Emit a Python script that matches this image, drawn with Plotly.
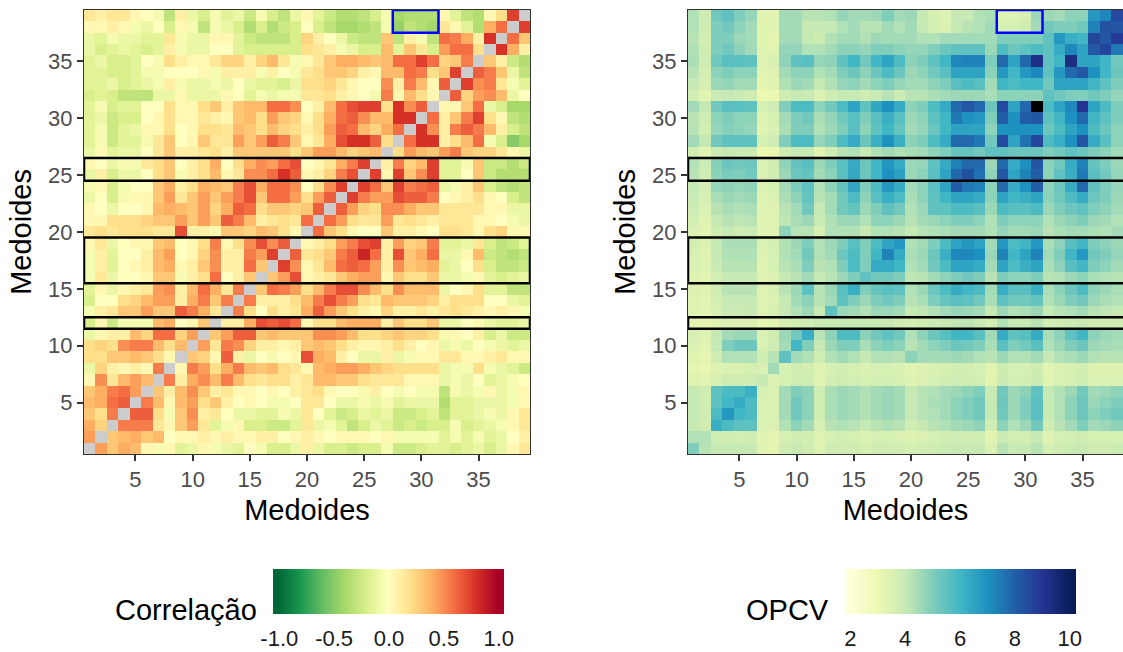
import plotly.graph_objects as go

# ---------------- data ----------------
medoids = list(range(1, 40))
N = None

# correlation between medoids; row k = medoid k (bottom = 1), columns = medoids 1..39
corr_rows = [
 [N,0.45,0.3,0.4,0.35,0.05,-0.05,0.05,-0.15,-0.1,0.05,-0.05,-0.1,-0.15,0.0,-0.05,-0.2,-0.2,-0.1, 0.1,-0.1,-0.2,-0.2,-0.25,-0.2,-0.2,-0.05,-0.25,-0.25,-0.2,-0.15,-0.15,-0.2,-0.15,-0.1,-0.2,-0.1,0.05,0.15],
 [0.45,N,0.3,0.35,0.4,0.3,0.35,0.0,0.05,0.05,0.1,0.05,0.1,0.05,0.05,0.1,0.1,0.0,0.05, 0.1,0.05,0.0,0.05,0.05,0.05,0.0,0.05,-0.05,-0.05,-0.05,-0.05,-0.15,-0.05,-0.15,-0.05,-0.15,-0.1,0.0,0.1],
 [0.4,0.25,N,0.55,0.55,0.55,0.15,0.05,0.3,0.45,0.15,-0.15,-0.05,0.05,-0.2,-0.2,-0.25,-0.25,-0.15, 0.15,-0.1,-0.05,-0.15,-0.3,-0.2,-0.1,-0.15,-0.25,-0.2,-0.25,-0.2,-0.2,-0.05,-0.2,-0.15,-0.1,-0.05,0.05,0.15],
 [0.3,0.2,0.55,N,0.65,0.65,0.2,-0.05,0.3,0.5,0.1,0.15,0.0,-0.1,-0.1,-0.15,-0.15,-0.05,-0.1, 0.15,0.0,-0.15,-0.25,-0.2,-0.1,-0.15,-0.1,-0.25,-0.25,-0.2,-0.15,-0.3,-0.15,-0.15,-0.1,-0.05,-0.1,0.05,0.15],
 [0.35,0.4,0.6,0.65,N,0.55,0.35,0.05,0.35,0.45,0.2,0.3,0.1,0.0,0.05,0.0,-0.05,-0.05,0.0, 0.15,0.15,0.0,-0.1,-0.1,-0.05,-0.1,-0.05,-0.15,-0.1,-0.1,-0.1,-0.35,-0.15,-0.15,-0.1,-0.1,-0.1,-0.05,0.05],
 [0.3,0.4,0.55,0.6,0.45,N,0.3,0.1,0.35,0.5,0.3,0.1,0.15,0.05,0.05,0.0,0.05,0.0,0.1, 0.15,0.2,0.05,0.0,0.0,-0.05,0.1,0.0,-0.05,0.0,-0.05,-0.05,-0.3,-0.05,-0.1,-0.05,0.05,-0.1,-0.05,0.05],
 [0.05,0.5,0.15,0.35,0.45,0.35,N,0.55,0.1,0.4,0.5,0.35,0.55,0.35,0.2,0.15,0.2,0.2,0.1, 0.15,0.35,0.35,0.3,0.3,0.2,0.15,0.15,0.15,0.05,0.05,0.05,-0.1,-0.05,-0.1,0.0,-0.15,-0.1,-0.05,0.0],
 [-0.1,0.25,0.1,0.05,0.1,0.05,0.55,N,0.05,0.55,0.45,0.2,0.4,0.55,0.35,0.3,0.35,0.2,0.15, 0.05,0.35,0.4,0.45,0.45,0.4,0.3,0.25,0.2,0.2,0.2,0.2,-0.1,-0.05,-0.05,0.2,-0.05,-0.1,-0.15,-0.25],
 [0.2,0.2,0.3,0.3,0.35,0.3,0.2,0.05,N,0.3,0.25,0.05,0.65,0.1,-0.1,0.0,-0.05,0.0,0.05, 0.7,0.4,0.35,0.1,0.0,-0.1,-0.1,0.1,-0.1,-0.05,0.05,0.05,0.15,0.15,0.05,0.05,0.1,0.15,0.05,0.05],
 [0.2,0.25,0.2,0.5,0.55,0.55,0.35,0.2,0.35,N,0.45,0.15,0.55,0.5,0.25,0.1,0.1,0.05,0.1, 0.3,0.35,0.3,0.2,0.1,0.05,0.05,0.1,0.2,0.1,0.0,0.05,-0.1,-0.05,-0.1,0.0,-0.05,-0.1,-0.15,-0.1],
 [-0.1,0.05,0.1,0.1,0.35,0.25,0.6,0.6,0.25,0.45,N,0.3,0.45,0.65,0.65,0.3,0.35,0.3,0.3, 0.3,0.5,0.5,0.45,0.35,0.2,0.2,0.25,0.3,0.25,0.25,0.2,-0.05,0.05,0.0,0.1,-0.2,-0.1,-0.25,-0.25],
 [-0.2,0.05,-0.25,-0.05,-0.05,-0.05,0.35,0.4,0.0,0.05,0.3,N,0.1,0.1,0.4,0.7,0.65,0.7,0.6, 0.05,0.2,0.2,0.35,0.4,0.4,0.4,0.1,0.3,0.2,0.2,0.3,-0.1,-0.1,0.0,0.05,-0.1,-0.15,-0.15,-0.1],
 [-0.05,0.1,0.15,0.3,0.3,0.45,0.3,0.3,0.65,0.55,0.4,0.15,N,0.55,0.2,0.0,0.2,0.1,0.15, 0.4,0.65,0.45,0.3,0.2,0.1,0.05,0.25,0.1,0.1,0.15,0.1,0.15,0.2,0.15,0.1,0.05,0.1,0.05,-0.05],
 [-0.2,0.0,0.0,0.2,0.25,0.35,0.45,0.45,0.1,0.4,0.55,0.3,0.55,N,0.55,0.1,0.1,0.1,0.2, 0.35,0.55,0.7,0.55,0.45,0.2,0.15,0.35,0.3,0.3,0.3,0.25,0.1,0.2,0.2,0.2,0.0,0.0,-0.1,-0.15],
 [-0.15,0.05,-0.1,0.05,0.1,0.15,0.45,0.5,0.1,0.35,0.6,0.4,0.15,0.55,N,0.3,0.6,0.55,0.45, 0.2,0.35,0.55,0.7,0.7,0.5,0.35,0.2,0.5,0.35,0.35,0.35,-0.1,0.0,0.05,0.2,-0.15,-0.15,-0.3,-0.3],
 [-0.05,0.15,-0.1,0.0,0.0,0.05,0.3,0.3,-0.05,0.1,0.2,0.6,0.0,0.1,0.3,N,0.3,0.45,0.7, 0.05,0.1,0.15,0.3,0.4,0.45,0.45,0.05,0.3,0.2,0.2,0.3,-0.1,-0.1,-0.05,0.05,-0.15,-0.2,-0.15,-0.1],
 [-0.05,0.1,-0.15,0.0,0.05,0.1,0.35,0.4,0.05,0.1,0.3,0.5,0.1,0.1,0.6,0.3,N,0.75,0.5, 0.05,0.15,0.35,0.6,0.65,0.6,0.45,0.1,0.5,0.3,0.35,0.4,-0.15,-0.1,0.0,0.2,-0.2,-0.3,-0.3,-0.25],
 [-0.05,0.1,-0.15,0.0,0.0,0.1,0.35,0.45,0.0,0.05,0.25,0.5,0.1,0.1,0.55,0.45,0.75,N,0.65, 0.15,0.2,0.3,0.55,0.65,0.85,0.6,0.1,0.7,0.3,0.4,0.6,-0.1,-0.1,0.05,0.35,-0.25,-0.3,-0.35,-0.3],
 [0.05,0.15,-0.1,0.0,0.05,0.05,0.3,0.35,0.0,0.05,0.2,0.55,0.05,0.2,0.5,0.7,0.5,0.65,N, 0.05,0.1,0.2,0.45,0.55,0.7,0.75,0.1,0.45,0.25,0.3,0.55,-0.15,-0.15,-0.1,0.15,-0.2,-0.3,-0.25,-0.15],
 [0.15,0.2,0.15,0.2,0.2,0.2,0.15,0.15,0.7,0.1,0.1,0.05,0.3,0.3,0.25,0.35,0.3,0.2,0.05, N,0.6,0.3,0.2,0.05,0.0,0.0,0.3,0.1,0.1,0.05,0.0,0.2,0.2,0.15,0.05,0.2,0.25,0.05,0.05],
 [0.05,0.05,0.2,0.2,0.2,0.25,0.3,0.3,0.45,0.3,0.45,0.3,0.65,0.55,0.35,0.1,0.15,0.2,0.15, 0.6,N,0.6,0.45,0.2,0.15,0.15,0.45,0.15,0.2,0.15,0.1,0.15,0.15,0.15,0.05,0.05,0.0,-0.05,-0.1],
 [0.05,0.0,-0.1,0.0,0.0,0.05,0.35,0.4,0.35,0.3,0.45,0.25,0.4,0.65,0.6,0.2,0.3,0.3,0.25, 0.3,0.65,N,0.65,0.45,0.25,0.2,0.5,0.5,0.4,0.3,0.3,0.15,0.15,0.15,0.15,0.05,0.05,-0.1,-0.1],
 [-0.1,0.0,-0.2,-0.05,0.05,0.05,0.3,0.45,0.15,0.3,0.45,0.3,0.45,0.55,0.7,0.3,0.6,0.6,0.45, 0.2,0.45,0.65,N,0.75,0.55,0.45,0.45,0.7,0.65,0.65,0.55,0.0,0.05,0.1,0.2,0.05,0.0,-0.2,-0.3],
 [-0.05,0.05,-0.2,-0.05,0.0,0.0,0.3,0.4,0.1,0.2,0.4,0.35,0.3,0.55,0.7,0.4,0.6,0.6,0.5, 0.0,0.2,0.5,0.75,N,0.75,0.6,0.3,0.75,0.55,0.6,0.65,-0.1,-0.05,0.1,0.3,-0.2,-0.3,-0.35,-0.3],
 [-0.1,0.1,-0.2,-0.1,-0.1,0.0,0.2,0.3,-0.05,0.1,0.2,0.35,0.05,0.15,0.5,0.5,0.6,0.8,0.65, 0.05,0.1,0.25,0.55,0.7,N,0.75,0.05,0.75,0.3,0.5,0.75,-0.15,-0.15,0.0,0.3,-0.25,-0.35,-0.35,-0.35],
 [0.05,0.0,-0.1,-0.05,-0.05,0.15,0.2,0.3,0.0,0.1,0.2,0.4,0.0,0.2,0.4,0.5,0.45,0.6,0.7, 0.0,0.05,0.15,0.4,0.55,0.75,N,0.1,0.55,0.25,0.35,0.75,-0.15,-0.15,-0.05,0.3,-0.25,-0.25,-0.35,-0.25],
 [-0.1,0.05,-0.15,-0.1,-0.1,0.0,0.15,0.3,0.1,0.1,0.15,0.2,0.1,0.3,0.3,0.3,0.3,0.3,0.2, 0.3,0.45,0.45,0.35,0.25,0.3,0.35,N,0.2,0.45,0.35,0.3,0.45,0.55,0.3,0.25,0.25,0.15,0.05,-0.1],
 [-0.15,-0.05,-0.25,-0.15,-0.15,-0.05,0.15,0.3,0.0,0.05,0.3,0.15,0.15,0.45,0.3,0.45,0.65,0.55,0.3, 0.05,0.15,0.4,0.7,0.8,0.8,0.65,0.2,N,0.6,0.8,0.8,0.1,0.2,0.35,0.6,-0.05,-0.2,-0.5,-0.4],
 [-0.15,-0.05,-0.25,-0.15,-0.1,0.05,0.05,0.2,0.0,0.05,0.2,0.2,0.15,0.35,0.3,0.2,0.35,0.25,0.2, 0.1,0.2,0.45,0.65,0.6,0.35,0.25,0.4,0.6,N,0.8,0.5,0.1,0.55,0.65,0.55,0.35,0.1,-0.2,-0.3],
 [-0.15,-0.1,-0.25,-0.2,-0.2,0.0,0.05,0.2,0.05,0.05,0.15,0.1,0.05,0.3,0.35,0.2,0.45,0.3,0.25, 0.05,0.2,0.4,0.6,0.65,0.5,0.35,0.35,0.8,0.8,N,0.6,0.1,0.3,0.55,0.75,0.2,0.05,-0.3,-0.35],
 [-0.15,-0.05,-0.2,-0.15,-0.15,0.0,0.0,0.2,0.05,0.05,0.2,0.3,0.1,0.3,0.35,0.35,0.6,0.6,0.5, 0.0,0.1,0.35,0.6,0.7,0.75,0.75,0.2,0.8,0.5,0.65,N,0.05,0.05,0.3,0.6,-0.1,-0.2,-0.4,-0.4],
 [-0.2,-0.15,-0.2,-0.3,-0.3,-0.3,-0.1,-0.1,0.05,-0.1,-0.1,-0.1,0.05,0.0,-0.15,-0.05,-0.1,-0.05,-0.05, 0.15,0.15,0.2,0.1,0.05,0.0,-0.05,0.55,0.05,0.35,0.2,0.05,N,0.65,0.25,0.45,0.5,0.35,-0.1,0.0],
 [-0.15,-0.15,-0.1,-0.2,-0.15,-0.1,-0.05,0.1,-0.05,-0.1,-0.1,-0.05,-0.1,0.0,-0.1,-0.15,-0.15,-0.2,-0.1, 0.2,0.2,0.25,0.15,0.05,0.0,0.0,0.5,0.1,0.55,0.35,0.05,0.65,N,0.75,0.5,0.55,0.15,-0.05,-0.15],
 [-0.15,-0.15,-0.2,-0.2,-0.15,-0.05,-0.05,0.0,0.0,0.0,0.05,-0.05,0.1,0.1,0.1,-0.05,0.1,0.0,-0.05, 0.15,0.2,0.3,0.3,0.25,0.1,0.05,0.35,0.35,0.6,0.55,0.2,0.3,0.75,N,0.65,0.55,0.3,-0.1,-0.3],
 [-0.15,-0.1,-0.2,-0.2,-0.15,0.0,-0.05,0.2,0.1,0.05,0.05,0.15,0.25,0.25,0.1,0.25,0.35,0.15,-0.05, 0.05,0.15,0.3,0.4,0.4,0.35,0.3,0.35,0.6,0.6,0.75,0.6,0.25,0.3,0.55,N,0.3,0.1,-0.25,-0.35],
 [-0.1,-0.2,-0.15,-0.1,-0.15,-0.2,-0.15,0.1,-0.05,-0.1,-0.1,0.0,0.0,-0.15,-0.2,-0.2,-0.2,-0.2,-0.2, 0.2,0.15,0.1,-0.05,-0.1,-0.2,-0.2,0.35,-0.15,0.3,0.15,-0.2,0.45,0.6,0.6,0.2,N,0.8,0.4,0.1],
 [-0.1,-0.15,-0.05,-0.1,-0.1,-0.15,-0.15,0.15,-0.05,-0.1,-0.1,0.05,0.05,-0.15,-0.25,-0.3,-0.3,-0.3,-0.2, 0.25,0.1,0.0,-0.1,-0.25,-0.3,-0.3,0.3,-0.3,0.1,-0.05,-0.3,0.6,0.55,0.4,0.1,0.8,N,0.6,0.3],
 [0.05,0.05,0.1,0.05,-0.05,-0.1,0.0,-0.2,0.05,-0.05,-0.3,-0.05,-0.1,-0.2,-0.35,-0.2,-0.35,-0.25,-0.2, 0.0,-0.2,-0.3,-0.4,-0.4,-0.35,-0.3,-0.05,-0.45,-0.3,-0.35,-0.4,0.15,0.05,-0.15,-0.35,0.4,0.6,N,0.75],
 [0.15,0.1,0.15,0.15,0.05,0.0,-0.05,-0.3,0.1,-0.1,-0.2,-0.05,-0.15,-0.1,-0.25,-0.05,-0.2,-0.3,-0.1, 0.05,-0.15,-0.25,-0.35,-0.35,-0.3,-0.2,-0.05,-0.4,-0.35,-0.35,-0.35,0.05,-0.15,-0.3,-0.35,0.05,0.2,0.75,N],
]

# OPCV between medoids; same layout (row k = medoid k, bottom = 1)
opcv_rows = [
 [5.0,4.2,4.0,4.0,4.0,4.0,3.3,3.2,3.8,4.0,3.8,3.4,3.8,3.8,3.8,3.6,3.8,3.8,3.7, 3.6,3.7,3.8,3.9,4.0,4.0,4.0,3.5,4.2,3.9,4.0,4.2,3.6,3.8,3.9,4.0,3.8,3.8,3.9,4.0],
 [4.3,4.3,3.8,3.8,3.7,3.8,3.3,3.2,3.6,3.8,3.7,3.4,3.6,3.7,3.6,3.5,3.6,3.6,3.5, 3.4,3.5,3.6,3.7,3.8,3.8,3.8,3.3,3.9,3.7,3.7,4.0,3.4,3.6,3.7,3.8,3.6,3.6,3.6,3.7],
 [4.0,3.8,6.2,5.8,5.5,5.5,3.5,3.5,4.3,4.8,4.5,3.6,4.2,4.3,4.2,4.0,4.2,4.3,4.2, 3.8,4.0,4.2,4.3,4.5,4.6,4.8,3.8,4.8,4.3,4.6,5.2,3.8,4.2,4.5,5.0,4.5,4.6,4.8,5.0],
 [4.0,3.8,5.8,6.8,6.0,5.8,3.5,3.5,4.5,5.2,4.8,3.8,4.4,4.6,4.5,4.3,4.5,4.6,4.5, 4.0,4.2,4.3,4.5,4.8,5.0,5.2,4.0,5.2,4.6,5.0,5.6,4.0,4.3,4.8,5.3,4.8,5.0,5.2,5.5],
 [4.0,3.8,5.5,6.0,6.3,5.8,3.5,3.5,4.5,5.2,4.8,3.8,4.4,4.6,4.5,4.3,4.5,4.6,4.5, 4.0,4.2,4.4,4.5,4.8,5.0,5.2,4.0,5.3,4.6,5.0,5.6,4.0,4.3,4.8,5.3,4.6,4.8,5.0,5.2],
 [4.0,3.8,5.5,5.8,5.8,6.2,3.6,3.5,4.5,5.0,4.8,3.8,4.4,4.6,4.5,4.3,4.5,4.6,4.5, 4.0,4.2,4.3,4.5,4.6,4.8,5.0,4.0,5.2,4.6,4.8,5.5,4.0,4.3,4.6,5.2,4.5,4.6,4.8,4.8],
 [3.4,3.3,3.6,3.8,3.8,3.8,4.0,3.5,3.6,3.8,3.8,3.4,3.7,3.8,3.7,3.6,3.7,3.7,3.6, 3.4,3.5,3.6,3.7,3.8,3.8,3.7,3.3,3.9,3.7,3.7,3.9,3.3,3.5,3.6,3.8,3.5,3.5,3.5,3.5],
 [3.2,3.1,3.4,3.5,3.5,3.6,3.5,4.5,3.6,3.8,3.7,3.4,3.6,3.7,3.6,3.5,3.6,3.6,3.5, 3.3,3.4,3.5,3.6,3.7,3.7,3.6,3.3,3.8,3.6,3.6,3.8,3.3,3.5,3.6,3.7,3.4,3.4,3.4,3.4],
 [3.4,3.2,3.8,4.3,4.3,4.3,3.8,4.2,5.5,4.5,4.3,3.8,4.3,4.5,4.3,4.0,4.3,4.3,4.2, 4.8,4.5,4.5,4.5,4.6,4.5,4.3,4.2,4.6,4.3,4.3,4.5,4.0,4.3,4.4,4.6,4.3,4.2,4.2,4.2],
 [3.5,3.3,4.0,5.0,5.3,5.3,3.5,3.8,4.5,6.0,5.0,4.0,4.6,5.0,5.0,4.4,4.8,5.0,4.8, 4.2,4.5,4.8,5.0,5.3,5.2,5.0,4.4,5.6,5.0,5.2,5.6,4.3,4.6,5.0,5.3,4.6,4.5,4.4,4.3],
 [3.6,3.4,4.0,4.5,4.6,4.6,3.5,3.8,4.6,5.2,6.2,4.2,4.8,5.8,5.8,4.8,5.2,5.5,5.2, 4.3,4.8,5.3,5.6,6.0,6.0,5.6,4.5,6.3,5.5,5.6,6.3,4.4,4.8,5.5,6.0,4.8,4.6,4.5,4.3],
 [3.3,3.2,3.4,3.5,3.5,3.5,3.2,3.3,3.6,3.7,3.8,4.0,4.0,4.0,4.0,4.0,4.0,4.0,3.8, 3.7,3.8,3.9,4.0,4.1,4.1,4.0,3.7,4.3,4.0,4.0,4.2,3.7,3.8,3.9,4.0,3.8,3.8,3.8,3.8],
 [3.4,3.3,3.6,3.9,3.9,4.0,3.4,3.6,4.0,4.3,4.6,4.0,5.5,4.6,4.5,4.3,4.6,4.6,4.5, 4.0,4.1,4.3,4.5,4.7,4.6,4.5,4.0,4.6,4.3,4.4,4.6,4.0,4.2,4.3,4.5,4.2,4.1,4.0,4.0],
 [3.4,3.3,3.7,4.0,4.0,4.0,3.4,3.5,4.0,4.5,4.8,4.2,4.5,5.5,5.0,4.6,5.0,5.2,5.0, 4.2,4.4,5.0,5.4,5.6,5.5,5.2,4.4,5.5,5.2,5.2,5.4,4.3,4.6,5.0,5.2,4.6,4.4,4.3,4.3],
 [3.5,3.4,3.8,4.2,4.2,4.2,3.4,3.6,4.2,4.6,5.5,4.2,4.6,5.6,6.2,5.0,5.4,5.6,5.5, 4.3,4.6,5.3,5.8,6.3,6.0,5.8,4.5,6.2,5.6,5.6,6.2,4.4,4.8,5.3,5.8,4.8,4.6,4.4,4.4],
 [3.4,3.3,3.7,4.0,4.0,4.0,3.4,3.5,4.0,4.2,4.5,4.0,4.2,4.6,5.0,5.5,5.2,5.2,5.0, 4.1,4.2,4.5,4.8,5.0,5.2,5.0,4.2,5.0,4.8,4.8,5.0,4.2,4.3,4.6,4.8,4.4,4.3,4.2,4.1],
 [3.5,3.4,3.9,4.2,4.2,4.2,3.4,3.6,4.2,4.4,5.0,4.2,4.3,5.0,5.8,5.0,6.3,6.3,6.0, 4.3,4.5,5.2,5.8,6.5,6.5,6.3,4.5,6.5,5.8,6.2,6.5,4.4,4.8,5.6,6.0,5.0,4.8,4.5,4.4],
 [3.6,3.4,4.0,4.3,4.3,4.3,3.4,3.6,4.3,4.5,5.2,4.3,4.5,5.3,5.8,5.0,6.0,7.3,6.3, 4.4,4.6,5.3,6.2,7.2,7.2,7.0,4.6,7.3,6.0,6.5,7.3,4.5,5.0,6.0,6.8,5.2,5.0,4.7,4.5],
 [3.7,3.5,4.0,4.4,4.4,4.4,3.5,3.7,4.3,4.6,5.0,4.3,4.6,5.0,5.6,5.0,5.8,6.5,6.8, 4.3,4.5,5.0,5.8,6.5,6.8,6.5,4.5,6.8,5.8,6.0,6.8,4.4,4.8,5.6,6.0,5.0,4.8,4.6,4.5],
 [3.5,3.3,3.8,4.0,3.8,3.9,3.3,3.3,4.8,4.2,4.2,3.6,4.3,4.3,4.3,4.0,4.3,4.3,4.2, 4.0,4.2,4.3,4.4,4.5,4.5,4.5,4.3,4.7,4.5,4.5,4.6,4.2,4.4,4.5,4.5,4.4,4.3,4.5,4.2],
 [3.7,3.4,4.0,4.2,4.1,4.2,3.3,3.4,4.1,4.4,4.6,3.9,4.3,4.6,4.6,4.3,4.8,4.8,4.6, 4.2,4.5,4.6,4.8,5.0,5.0,4.8,4.3,5.0,4.8,4.8,4.8,4.3,4.6,4.8,5.0,4.6,4.5,4.3,4.2],
 [3.8,3.5,4.2,4.4,4.3,4.4,3.3,3.4,4.2,4.5,5.2,4.0,4.5,5.2,5.4,4.6,5.0,5.5,5.2, 4.3,4.6,5.5,5.5,5.8,5.8,5.6,4.6,5.8,5.6,5.6,5.8,4.6,5.0,5.3,5.5,5.0,4.8,4.5,4.3],
 [3.9,3.6,4.4,4.6,4.5,4.6,3.4,3.5,4.4,4.8,5.4,4.2,4.5,5.2,5.8,4.8,5.6,6.2,5.8, 4.4,4.8,5.5,6.0,6.5,6.5,6.3,4.8,6.5,6.0,6.2,6.5,4.8,5.2,5.8,6.3,5.3,5.0,4.6,4.3],
 [4.0,3.7,4.7,4.8,4.7,4.8,3.5,3.6,4.5,5.0,5.5,4.3,4.8,5.4,6.4,5.0,5.8,6.8,6.3, 4.5,4.8,5.6,6.5,8.0,7.5,7.3,4.8,7.8,6.3,7.0,8.0,4.8,5.3,6.3,7.8,5.5,5.0,4.7,4.3],
 [4.2,3.8,4.8,5.1,5.0,5.2,3.5,3.7,4.6,5.3,5.4,4.5,4.8,5.6,6.4,5.3,6.0,7.0,6.6, 4.6,4.8,5.6,6.5,7.8,8.3,7.6,4.8,8.2,6.5,7.3,8.0,4.8,5.5,6.2,7.5,5.6,5.2,4.7,4.3],
 [4.3,3.9,4.9,5.3,5.2,5.3,3.5,3.8,4.8,5.4,5.6,4.6,5.0,5.6,6.3,5.3,6.0,6.8,6.3, 4.6,4.7,5.5,6.3,7.3,7.8,7.8,4.6,7.8,6.3,7.0,8.2,4.8,5.2,6.3,7.3,5.4,5.0,4.6,4.3],
 [3.7,3.3,3.9,4.0,3.9,3.9,3.0,3.1,3.8,4.0,4.0,3.3,3.8,4.2,4.3,4.0,4.3,4.5,4.3, 4.4,4.5,4.8,5.0,5.4,5.4,5.2,5.5,5.5,5.3,5.3,5.3,5.0,5.2,5.5,5.3,5.0,4.8,4.5,4.3],
 [4.5,4.0,5.2,5.5,5.5,5.5,3.6,3.8,5.0,5.8,5.8,4.7,5.0,5.8,6.3,5.3,6.2,7.0,6.2, 4.8,5.0,5.8,6.3,7.8,7.8,7.5,5.2,8.5,6.5,7.6,8.6,5.8,6.2,7.0,8.2,6.3,5.6,4.8,4.2],
 [4.2,3.7,4.7,4.9,4.8,4.7,3.3,3.5,4.4,5.0,5.0,4.3,4.6,5.0,5.6,4.8,5.5,6.0,5.4, 4.5,4.7,5.3,6.0,6.5,6.5,6.5,4.8,7.0,7.0,7.0,7.0,5.3,5.8,6.5,7.0,5.8,5.3,4.8,4.5],
 [4.2,3.8,4.8,5.0,4.8,4.8,3.4,3.6,4.5,5.0,5.2,4.4,4.7,5.2,5.6,5.0,5.6,6.2,5.6, 4.6,4.8,5.5,6.0,7.5,7.0,6.8,5.0,8.0,7.0,8.0,8.2,5.5,6.0,7.0,7.8,6.0,5.5,5.0,4.6],
 [4.5,4.0,5.2,5.6,5.6,5.5,3.6,3.8,5.0,5.8,5.8,4.8,5.2,5.8,6.5,5.5,6.4,7.0,6.3, 4.8,5.0,5.8,6.3,7.8,8.2,7.8,5.3,8.5,6.5,7.8,10.5,5.8,6.5,7.2,9.0,6.5,5.8,5.0,4.6],
 [3.7,3.3,3.9,4.0,3.9,3.8,3.0,3.0,3.8,4.0,3.9,3.5,3.8,4.0,4.0,3.8,4.0,4.2,3.9, 4.2,4.2,4.4,4.5,4.6,4.6,4.6,4.4,4.8,4.8,4.8,4.8,5.5,5.2,5.0,5.0,5.2,5.0,4.7,4.5],
 [4.0,3.6,4.6,4.7,4.5,4.5,3.2,3.3,4.3,4.6,4.5,4.0,4.3,4.7,4.8,4.5,4.8,5.0,4.7, 4.5,4.5,4.8,5.0,5.6,5.8,5.6,4.5,6.0,5.8,6.0,6.0,5.2,6.5,6.5,6.5,6.0,5.5,5.0,4.6],
 [4.2,3.7,4.8,5.0,4.8,4.8,3.3,3.4,4.5,4.8,4.8,4.3,4.5,5.0,5.3,4.8,5.3,5.8,5.3, 4.6,4.8,5.2,5.6,6.5,6.5,6.5,4.8,6.8,6.0,6.8,7.2,5.5,6.8,7.8,8.2,7.0,6.0,5.3,4.8],
 [4.4,3.8,5.2,5.6,5.6,5.5,3.4,3.6,4.8,5.5,5.6,4.7,4.8,5.5,6.0,5.2,6.0,6.5,5.8, 4.8,5.0,5.5,6.0,7.2,7.3,7.3,5.0,7.8,6.5,7.8,9.2,5.5,6.0,9.3,6.5,6.5,6.0,5.2,5.0],
 [4.3,3.8,5.0,5.2,4.8,4.5,3.3,3.3,4.7,4.7,4.3,4.3,4.5,4.8,4.8,4.7,5.0,5.0,4.8, 4.7,4.7,5.0,5.3,5.5,5.5,5.5,4.6,5.8,5.3,5.5,5.8,5.5,6.3,7.2,6.5,8.2,8.6,7.5,6.5],
 [4.2,3.7,5.0,5.0,4.6,4.5,3.3,3.2,4.5,4.5,4.0,3.8,4.3,4.5,4.5,4.3,4.6,4.5,4.5, 4.5,4.3,4.3,4.5,4.5,4.5,4.5,4.5,5.0,5.0,5.0,5.0,5.5,6.8,6.2,6.0,8.6,8.2,8.8,7.2],
 [4.3,3.8,5.0,5.2,4.8,4.5,3.3,3.3,4.5,4.5,4.0,4.0,4.0,4.3,4.5,4.2,4.2,4.5,4.3, 4.5,4.0,3.7,3.5,4.0,4.2,4.3,4.5,3.6,3.6,3.8,4.5,5.2,5.0,5.0,5.2,7.3,8.3,8.2,7.8],
 [4.3,3.8,5.2,5.5,5.0,4.7,3.3,3.3,4.5,4.5,4.2,4.2,4.3,4.7,4.5,4.5,4.6,5.0,4.5, 4.6,4.0,3.6,3.4,4.0,4.0,4.3,4.4,3.4,3.4,3.6,4.6,4.6,4.5,4.8,4.8,6.8,7.2,8.5,8.8],
]

# highlighted medoids (drawn as outlined bands)
band_rows = [(25, 26), (16, 19), (12, 12)]
blue_cols = (28, 31)
blue_rows = (38, 39)

corr_limits = (-1.0, 1.0)
opcv_limits = (2.0, 10.0)
corr_ticks = [-1.0, -0.5, 0.0, 0.5, 1.0]
corr_ticktext = ["-1.0", "-0.5", "0.0", "0.5", "1.0"]
opcv_ticks = [2, 4, 6, 8, 10]
opcv_ticktext = ["2", "4", "6", "8", "10"]

# ---------------- styling ----------------
W, H = 1123, 652
FONT = "Liberation Sans, Arial, sans-serif"
rdylgn = ["#006837", "#1a9850", "#66bd63", "#a6d96a", "#d9ef8b", "#ffffbf",
          "#fee08b", "#fdae61", "#f46d43", "#d73027", "#a50026"]
ylgnbu = ["#ffffd9", "#edf8b1", "#c7e9b4", "#7fcdbb", "#41b6c4", "#1d91c0",
          "#225ea8", "#253494", "#081d58"]


def padded_scale(colors, pad=0.025):
    n = len(colors)
    sc = [[0.0, colors[0]]]
    for i, c in enumerate(colors):
        sc.append([pad + (1 - 2 * pad) * i / (n - 1), c])
    sc.append([1.0, colors[-1]])
    return sc


def padded_range(lo, hi, pad=0.025):
    span = (hi - lo) / (1 - 2 * pad)
    return lo - pad * span, hi + pad * span


cmin1, cmax1 = padded_range(*corr_limits)
cmin2, cmax2 = padded_range(*opcv_limits)

left_x = (84 / W, 530 / W)
right_x = (688 / W, 1.0)
y_dom = ((H - 456) / H, (H - 10) / H)
cell = (530 - 84) / 39.0
right_end = 0.5 + (W - 688) / cell

cb_common = dict(orientation="h", lenmode="pixels", len=231, thickness=45,
                 thicknessmode="pixels", xanchor="center", yanchor="top",
                 y=(H - 572) / H, xpad=0, ypad=0, outlinewidth=0,
                 ticks="outside", ticklen=6, tickcolor="white", tickwidth=1,
                 tickfont=dict(family=FONT, size=22, color="#1a1a1a"))

fig = go.Figure()
fig.add_trace(go.Heatmap(
    z=corr_rows, x=medoids, y=medoids, xaxis="x", yaxis="y",
    colorscale=padded_scale(rdylgn), zmin=cmin1, zmax=cmax1,
    colorbar=dict(cb_common, x=389 / W, tickvals=corr_ticks, ticktext=corr_ticktext),
    hoverongaps=False))
fig.add_trace(go.Heatmap(
    z=opcv_rows, x=medoids, y=medoids, xaxis="x2", yaxis="y2",
    colorscale=padded_scale(ylgnbu), zmin=cmin2, zmax=cmax2,
    colorbar=dict(cb_common, x=960 / W, tickvals=opcv_ticks, ticktext=opcv_ticktext)))
# values beyond the colour scale limit are shown in black
over = [[v if v > opcv_limits[1] else None for v in row] for row in opcv_rows]
fig.add_trace(go.Heatmap(
    z=over, x=medoids, y=medoids, xaxis="x2", yaxis="y2",
    colorscale=[[0, "black"], [1, "black"]], showscale=False, hoverongaps=False))

tick_font = dict(family=FONT, size=22, color="#4d4d4d")
title_font = dict(family=FONT, size=29, color="black")
ax_common = dict(tickvals=[5, 10, 15, 20, 25, 30, 35], ticks="outside", ticklen=6,
                 tickwidth=2, tickcolor="#333333", tickfont=tick_font,
                 showgrid=False, zeroline=False, showline=True, linecolor="#333333",
                 linewidth=1)

fig.update_layout(
    width=W, height=H, margin=dict(l=0, r=0, t=0, b=0),
    paper_bgcolor="white", plot_bgcolor="#cccccc",
    font=dict(family=FONT),
    xaxis=dict(ax_common, domain=left_x, range=[0.5, 39.5], anchor="y", mirror=True,
               title=dict(text="Medoides", font=title_font, standoff=8)),
    yaxis=dict(ax_common, domain=y_dom, range=[0.5, 39.5], anchor="x", mirror=True,
               title=dict(text="Medoides", font=title_font, standoff=7)),
    xaxis2=dict(ax_common, domain=right_x, range=[0.5, right_end], anchor="y2", mirror=True,
                title=dict(text="Medoides", font=title_font, standoff=8)),
    yaxis2=dict(ax_common, domain=y_dom, range=[0.5, 39.5], anchor="x2", mirror=False,
                title=dict(text="Medoides", font=title_font, standoff=7)),
    showlegend=False,
)

for xr, yr in (("x", "y"), ("x2", "y2")):
    for r0, r1 in band_rows:
        fig.add_shape(type="rect", xref=xr, yref=yr, x0=0.5, x1=39.5,
                      y0=r0 - 0.5, y1=r1 + 0.5, line=dict(color="black", width=2.5),
                      fillcolor="rgba(0,0,0,0)", layer="above")
    fig.add_shape(type="rect", xref=xr, yref=yr, x0=blue_cols[0] - 0.5, x1=blue_cols[1] + 0.5,
                  y0=blue_rows[0] - 0.5, y1=blue_rows[1] + 0.5,
                  line=dict(color="#0000ff", width=2.5), fillcolor="rgba(0,0,0,0)", layer="above")

fig.add_annotation(text="Correlação", xref="paper", yref="paper", x=259 / W, y=(H - 613) / H,
                   xanchor="right", yanchor="middle", showarrow=False,
                   font=dict(family=FONT, size=29, color="black"))
fig.add_annotation(text="OPCV", xref="paper", yref="paper", x=831 / W, y=(H - 613) / H,
                   xanchor="right", yanchor="middle", showarrow=False,
                   font=dict(family=FONT, size=29, color="black"))

fig.write_html("out.html")
